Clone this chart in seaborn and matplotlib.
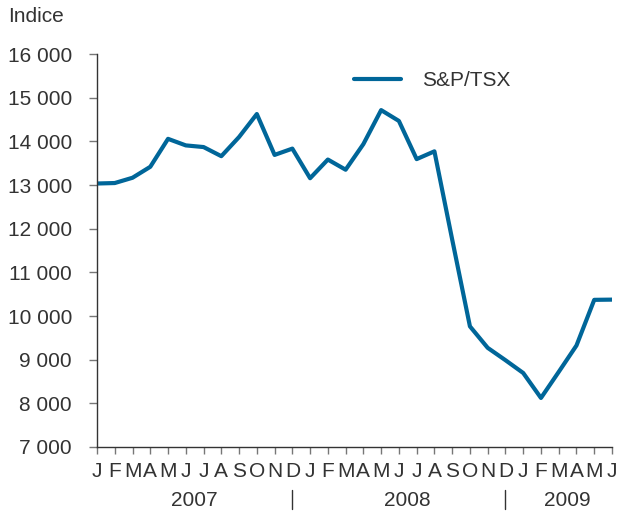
import matplotlib
matplotlib.use("Agg")
import matplotlib.pyplot as plt
import matplotlib.transforms as mtransforms
import pandas as pd
import seaborn as sns

# S&P/TSX monthly index, Jan 2007 - Jun 2009
months = ["J", "F", "M", "A", "M", "J", "J", "A", "S", "O", "N", "D",
          "J", "F", "M", "A", "M", "J", "J", "A", "S", "O", "N", "D",
          "J", "F", "M", "A", "M", "J"]
values = [13034, 13045, 13166, 13417, 14057, 13907, 13869, 13660, 14099, 14625, 13689, 13833,
          13155, 13583, 13350, 13937, 14715, 14467, 13593, 13771, 11753, 9763, 9271, 8988,
          8695, 8123, 8720, 9325, 10370, 10375]
years = ["2007", "2008", "2009"]
year_centers = [5.5, 17.5, 26.5]
year_separators = [11, 23]
yticks = list(range(7000, 16001, 1000))

df = pd.DataFrame({"t": range(len(values)), "v": values, "serie": "S&P/TSX"})

sns.set_style("white")
plt.rcParams["font.family"] = ["Liberation Sans", "DejaVu Sans"]
txt = "#333333"

fig = plt.figure(figsize=(6.19, 5.13), dpi=100)
ax = fig.add_axes([97 / 619, 66 / 513, 515 / 619, 393 / 513])

sns.lineplot(data=df, x="t", y="v", hue="serie", palette=["#006699"],
             linewidth=3, ax=ax)

ax.set_xlim(0, len(values) - 1)
ax.set_ylim(7000, 16000)
ax.set_yticks(yticks)
ax.set_yticklabels([f"{y:,}".replace(",", " ") for y in yticks])
ax.set_xticks(range(len(months)))
ax.set_xticklabels(months)
ax.set_xlabel("")
ax.set_ylabel("")

for s in ["top", "right"]:
    ax.spines[s].set_visible(False)
for s in ["left", "bottom"]:
    ax.spines[s].set_color("#333333")
    ax.spines[s].set_linewidth(1)

ax.tick_params(axis="y", length=6, width=1, color="#777777", pad=12,
               labelsize=15, labelcolor=txt, left=True)
ax.tick_params(axis="x", length=5, width=1, color="#777777", pad=6,
               labelsize=15, labelcolor=txt, bottom=True)

# year labels and separators under the month axis
trans = mtransforms.blended_transform_factory(ax.transData, fig.transFigure)
for c, yr in zip(year_centers, years):
    ax.text(c, 1 - 500 / 513, yr, transform=trans, ha="center", va="center",
            fontsize=15, color=txt)
for s in year_separators:
    ax.plot([s, s], [1 - 490 / 513, 1 - 509 / 513], transform=trans,
            color="#333333", lw=1, clip_on=False)

fig.text(8 / 619, 1 - 17 / 513, "Indice", ha="left", va="center",
         fontsize=15, color=txt)

leg = ax.legend(loc="center left", bbox_to_anchor=(354 / 619, 1 - 81 / 513),
                bbox_transform=fig.transFigure, frameon=False, borderpad=0,
                borderaxespad=0, handlelength=2.26, handletextpad=1.0,
                fontsize=15, title=None)
for t in leg.get_texts():
    t.set_color(txt)

fig.savefig("out.png", dpi=100)
